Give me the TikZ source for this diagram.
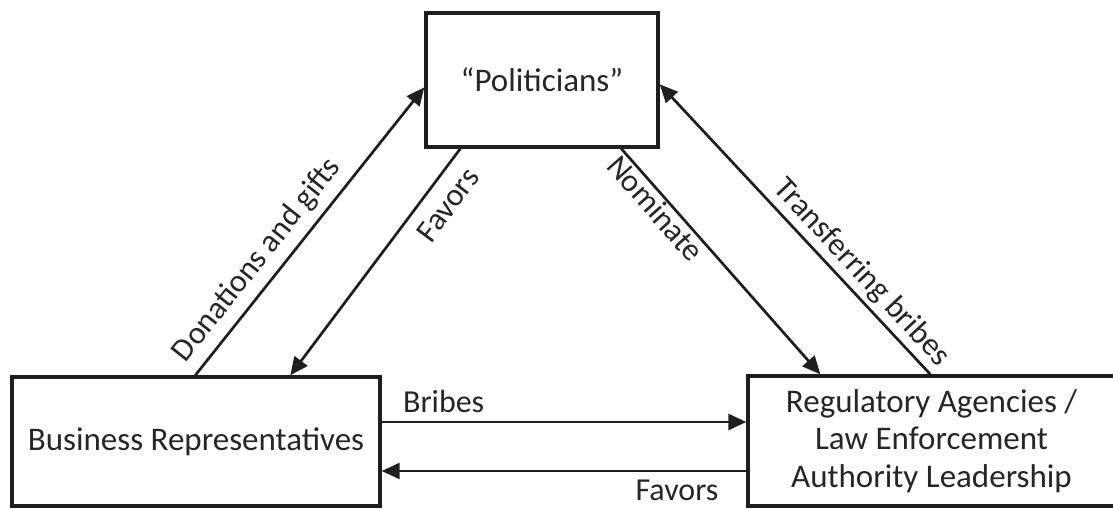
\documentclass[tikz,border=0pt]{standalone}
\usepackage{fontspec}
\setmainfont{Carlito}
\usetikzlibrary{arrows.meta,calc}
\definecolor{ink}{HTML}{1E1E1E}
\definecolor{txt}{HTML}{262626}
\begin{document}
\begin{tikzpicture}[x=1pt,y=-1pt,
  box/.style={draw=ink, line width=3.4pt, fill=white, text=txt,
    font=\fontsize{33}{37.5}\selectfont, inner sep=0pt},
  conn/.style={draw=ink, line width=2.7pt, -{Triangle[length=18pt,width=16pt]}},
  lbl/.style={text=txt, font=\fontsize{32}{38}\selectfont, inner sep=5pt}
]
\useasboundingbox (0,0) rectangle (1113,509);

\node[box, minimum width=232pt, minimum height=134pt] (pol) at (542,80) {“Politicians”};
\node[box, minimum width=368pt, minimum height=129pt] (bus) at (196,441.5) {Business Representatives};
\node[box, minimum width=367pt, minimum height=130pt, align=center] (reg) at (931.5,441)
  {Regulatory Agencies /\\Law Enforcement\\Authority Leadership};

\coordinate (yb) at (0,422);
\coordinate (yf) at (0,471);

% Business -> Politicians
\draw[conn] ($(bus.north west)+(185,0)$) -- node[lbl, sloped, above, pos=0.35, inner sep=8pt] {Donations and gifts} ($(pol.north west)+(0,76)$);
% Politicians -> Business
\draw[conn] ($(pol.south west)+(36,0)$) -- node[lbl, sloped, below, pos=0.185, inner sep=12pt] {Favors} ($(bus.north west)+(280,0)$);
% Politicians -> Regulatory
\draw[conn] ($(pol.south west)+(197,0)$) -- node[lbl, sloped, below, pos=0.225, inner sep=1pt] {Nominate} ($(reg.north west)+(74,0)$);
% Regulatory -> Politicians
\draw[conn] ($(reg.north west)+(184,0)$) -- node[lbl, sloped, above, pos=0.305, inner sep=4pt] {Transferring bribes} ($(pol.north east)+(0,73)$);
% Business -> Regulatory
\draw[conn] (bus.east |- yb) -- node[lbl, above, pos=0.17, inner sep=8pt] {Bribes} (reg.west |- yb);
% Regulatory -> Business
\draw[conn] (reg.west |- yf) -- node[lbl, below, pos=0.19, inner sep=8pt] {Favors} (bus.east |- yf);
\end{tikzpicture}
\end{document}
